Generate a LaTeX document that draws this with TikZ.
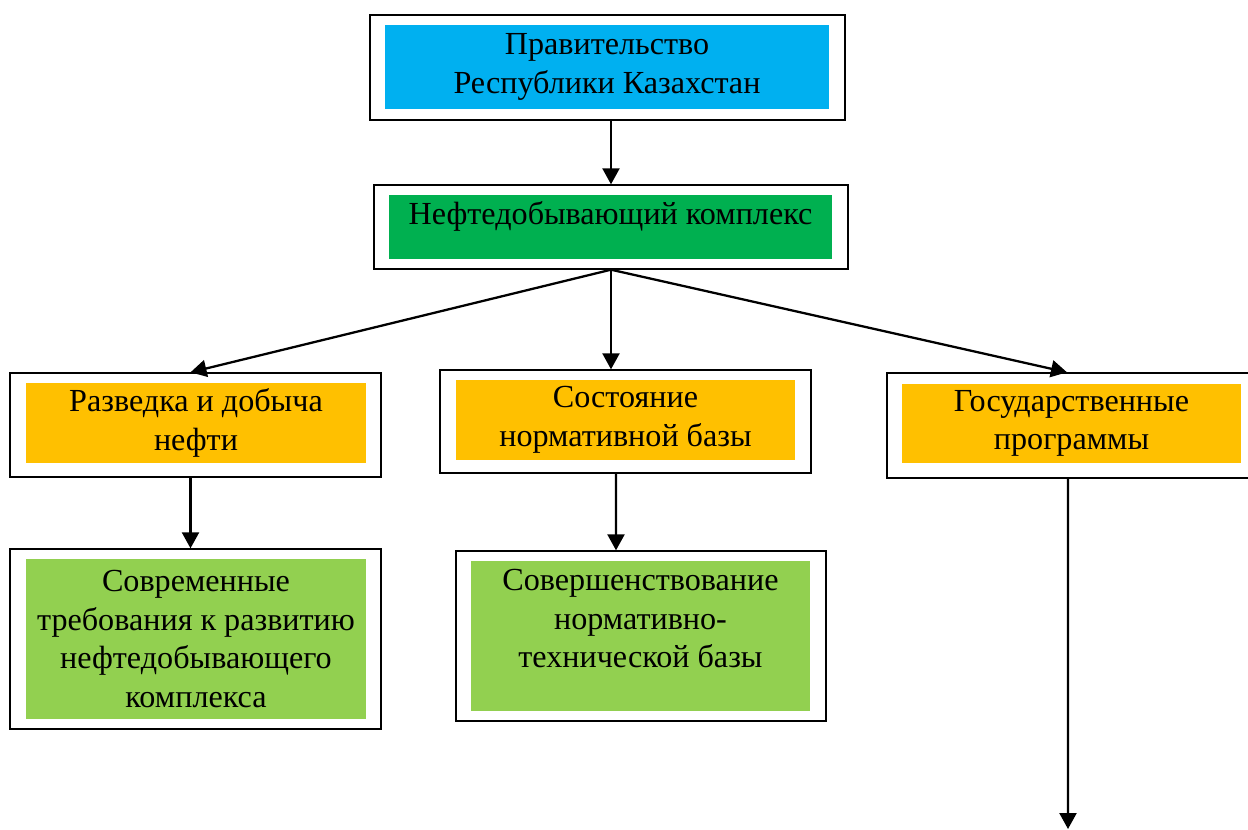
\documentclass[tikz,border=0pt]{standalone}
\usepackage{fontspec}
\setmainfont{Liberation Serif}
\usepackage{xcolor}
\usetikzlibrary{arrows.meta, positioning}
\definecolor{govblue}{RGB}{0,176,240}
\definecolor{oilgreen}{RGB}{0,176,80}
\definecolor{amber}{RGB}{255,192,0}
\definecolor{lightgreen}{RGB}{146,208,80}
\tikzset{
    frame/.style={rectangle, draw, line width=0.8pt, fill=white, inner sep=0pt},
    panel/.style={rectangle, inner sep=0pt, text centered, align=center, font=\fontsize{18.3}{22}\selectfont},
    arrow/.style={-{Triangle[length=0.32cm, width=0.34cm]}, line width=1.3pt}
}

\begin{document}
\begin{tikzpicture}[x=0.02cm, y=-0.02cm]
    \useasboundingbox (0,0) rectangle (1248,829);

    % Top level
    \node[frame, minimum width=9.5cm, minimum height=2.1cm] (gov) at (607.5,67.5) {};
    \node[panel, fill=govblue, minimum width=8.88cm, minimum height=1.68cm] (govin) at (607,67) {Правительство\\Республики Казахстан};

    \node[frame, minimum width=9.48cm, minimum height=1.68cm] (oil) at (611,227) {};
    \node[panel, fill=oilgreen, minimum width=8.86cm, minimum height=1.28cm, text depth=0.56cm] (oilin) at (610.5,227) {Нефтедобывающий комплекс};

    % Middle level
    \node[frame, minimum width=7.42cm, minimum height=2.08cm] (razv) at (195.5,425) {};
    \node[panel, fill=amber, minimum width=6.8cm, minimum height=1.6cm] (razvin) at (196,423) {Разведка и добыча\\нефти};

    \node[frame, minimum width=7.42cm, minimum height=2.06cm] (sost) at (625.5,421.5) {};
    \node[panel, fill=amber, minimum width=6.78cm, minimum height=1.6cm] (sostin) at (625.5,420) {Состояние\\нормативной базы};

    \node[frame, minimum width=7.38cm, minimum height=2.1cm] (gos) at (1071.5,425.5) {};
    \node[panel, fill=amber, minimum width=6.78cm, minimum height=1.58cm] (gosin) at (1071.5,423.5) {Государственные\\программы};

    % Bottom level
    \node[frame, minimum width=7.42cm, minimum height=3.6cm] (sovr) at (195.5,639) {};
    \node[panel, fill=lightgreen, minimum width=6.8cm, minimum height=3.2cm] (sovrin) at (196,639) {Современные\\требования к развитию\\нефтедобывающего\\комплекса};

    \node[frame, minimum width=7.4cm, minimum height=3.4cm] (sover) at (641,636) {};
    \node[panel, fill=lightgreen, minimum width=6.78cm, minimum height=3cm, text depth=0.7cm] (soverin) at (640.5,636) {Совершенствование\\нормативно-\\технической базы};

    \coordinate (gosend) at (1068,829);

    % Connections
    \draw[arrow] (gov.south -| oil.south) -- (oil.north);
    \draw[arrow] (oil.south) -- ([xshift=-0.1cm]razv.north);
    \draw[arrow] (oil.south) -- (oil.south |- sost.north);
    \draw[arrow] (oil.south) -- ([xshift=-0.09cm]gos.north);
    \draw[arrow] ([xshift=-0.1cm]razv.south) -- ([xshift=-0.1cm]sovr.north);
    \draw[arrow] ([xshift=-0.19cm]sost.south) -- ([xshift=-0.5cm]sover.north);
    \draw[arrow] ([xshift=-0.07cm]gos.south) -- (gosend);
\end{tikzpicture}
\end{document}
